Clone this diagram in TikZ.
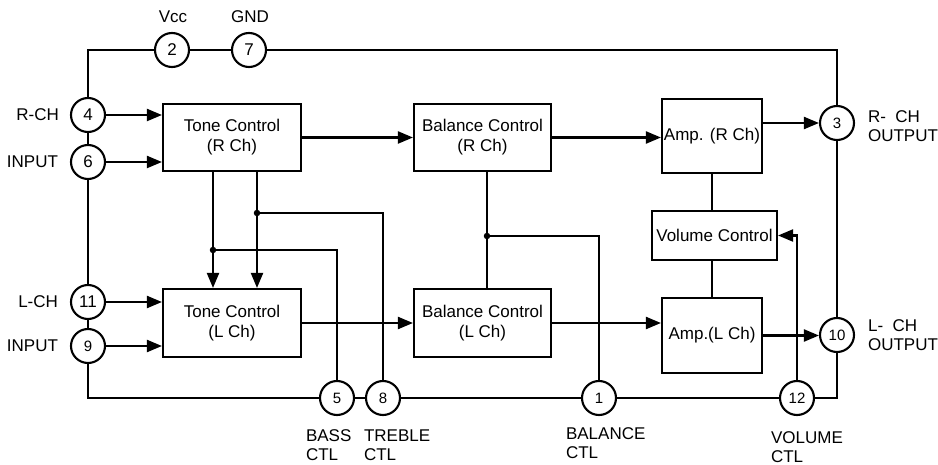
\documentclass[tikz,border=0pt]{standalone}
\usepackage{fontspec}
\setmainfont{Liberation Sans}
\usetikzlibrary{arrows.meta}
\begin{document}
\begin{tikzpicture}[x=1pt,y=-1pt,line width=2.1pt,
  pinc/.style={circle,draw,minimum size=34pt,inner sep=0pt,font=\fontsize{17}{20}\selectfont},
  spin/.style={pinc,font=\fontsize{15}{18}\selectfont},
  blk/.style={draw,inner sep=0pt,align=center,font=\fontsize{17}{20}\selectfont},
  lbl/.style={font=\fontsize{17}{19.5}\selectfont,inner sep=0pt},
  arr/.style={-{Triangle[length=15pt,width=12pt]}},
  jdot/.style={circle,fill,inner sep=0pt,minimum size=6.5pt}]
\useasboundingbox (0,0) rectangle (938,465);
% pins
\node[pinc] (p2) at (172,50) {2};
\node[pinc] (p7) at (249,50) {7};
\node[pinc] (p4) at (88,115) {4};
\node[pinc] (p6) at (88,162) {6};
\node[pinc] (p11) at (88,302) {11};
\node[spin] (p9) at (88,346) {9};
\node[spin] (p5) at (337,398) {5};
\node[spin] (p8) at (383,398) {8};
\node[spin] (p1) at (599,398) {1};
\node[spin] (p12) at (797,398) {12};
\node[spin] (p10) at (837,335) {10};
\node[spin] (p3) at (837,123) {3};
% blocks
\node[blk,minimum width=138pt,minimum height=67pt] (toneR) at (232,137.5) {Tone Control\\(R Ch)};
\node[blk,minimum width=138pt,minimum height=68pt] (toneL) at (232,323) {Tone Control\\(L Ch)};
\node[blk,minimum width=137pt,minimum height=67pt] (balR) at (482.5,137.5) {Balance Control\\(R Ch)};
\node[blk,minimum width=137pt,minimum height=68pt] (balL) at (482.5,323) {Balance Control\\(L Ch)};
\node[blk,minimum width=100pt,minimum height=74pt] (ampR) at (712,136) {Amp. (R Ch)};
\node[blk,minimum width=100pt,minimum height=75pt] (ampL) at (712,335.5) {Amp.(L Ch)};
\node[blk,minimum width=125pt,minimum height=49pt] (vol) at (714.5,235.5) {Volume Control};
% junctions
\coordinate (jB) at (213,250);
\coordinate (jT) at (257,213);
\coordinate (jBal) at (487,236);
% outer ring
\draw (p4.north) |- (p2.west);
\draw (p2.east) -- (p7.west);
\draw (p7.east) -| (p3.north);
\draw (p3.south) -- (p10.north);
\draw (p10.south) |- (p12.east);
\draw (p12.west) -- (p1.east);
\draw (p1.west) -- (p8.east);
\draw (p8.west) -- (p5.east);
\draw (p5.west) -| (p9.south);
\draw (p9.north) -- (p11.south);
\draw (p11.north) -- (p6.south);
\draw (p6.north) -- (p4.south);
% signal arrows
\draw[arr] (p4.east) -- (p4.east -| toneR.west);
\draw[arr] (p6.east) -- (p6.east -| toneR.west);
\draw[arr] (p11.east) -- (p11.east -| toneL.west);
\draw[arr] (p9.east) -- (p9.east -| toneL.west);
\draw[arr] (toneR.east) -- (toneR.east -| balR.west);
\draw[arr] (toneL.east) -- (balL.west);
\draw[arr] (balR.east) -- (balR.east -| ampR.west);
\draw[arr] (balL.east) -- (balL.east -| ampL.west);
\draw[arr] (p3.west -| ampR.east) -- (p3.west);
\draw[arr] (ampL.east) -- (ampL.east -| p10.west);
% tone control links
\draw[arr] (toneR.south -| jB) -- (toneL.north -| jB);
\draw[arr] (toneR.south -| jT) -- (toneL.north -| jT);
\draw (jB) -| (p5.north);
\draw (jT) -| (p8.north);
\node[jdot] (dB) at (jB) {};
\node[jdot] (dT) at (jT) {};
% balance links
\draw (balR.south -| jBal) -- (balL.north -| jBal);
\draw (jBal) -| (p1.north);
\node[jdot] (dBal) at (jBal) {};
% amp / volume
\draw (ampR.south) -- (ampR.south |- vol.north);
\draw (vol.south -| ampL.north) -- (ampL.north);
\draw[arr] (p12.north) |- (vol.east);
% labels
\node[lbl] (tVcc) at (173,17) {Vcc};
\node[lbl] (tGND) at (250,17) {GND};
\node[lbl,anchor=east] (tRCH) at (60,115) {R-CH};
\node[lbl,anchor=east] (tIN1) at (59,162) {INPUT};
\node[lbl,anchor=east] (tLCH) at (59,302) {L-CH};
\node[lbl,anchor=east] (tIN2) at (59,346) {INPUT};
\node[lbl,anchor=west,align=left] (tRO) at (867,126) {R-\ \ CH\\OUTPUT};
\node[lbl,anchor=west,align=left] (tLO) at (867,335) {L-\ \ CH\\OUTPUT};
\node[lbl,anchor=west,align=left] (tBass) at (305,445) {BASS\\CTL};
\node[lbl,anchor=west,align=left] (tTreb) at (363,445) {TREBLE\\CTL};
\node[lbl,anchor=west,align=left] (tBal) at (565,443) {BALANCE\\CTL};
\node[lbl,anchor=west,align=left] (tVol) at (770,447) {VOLUME\\CTL};
\end{tikzpicture}
\end{document}
